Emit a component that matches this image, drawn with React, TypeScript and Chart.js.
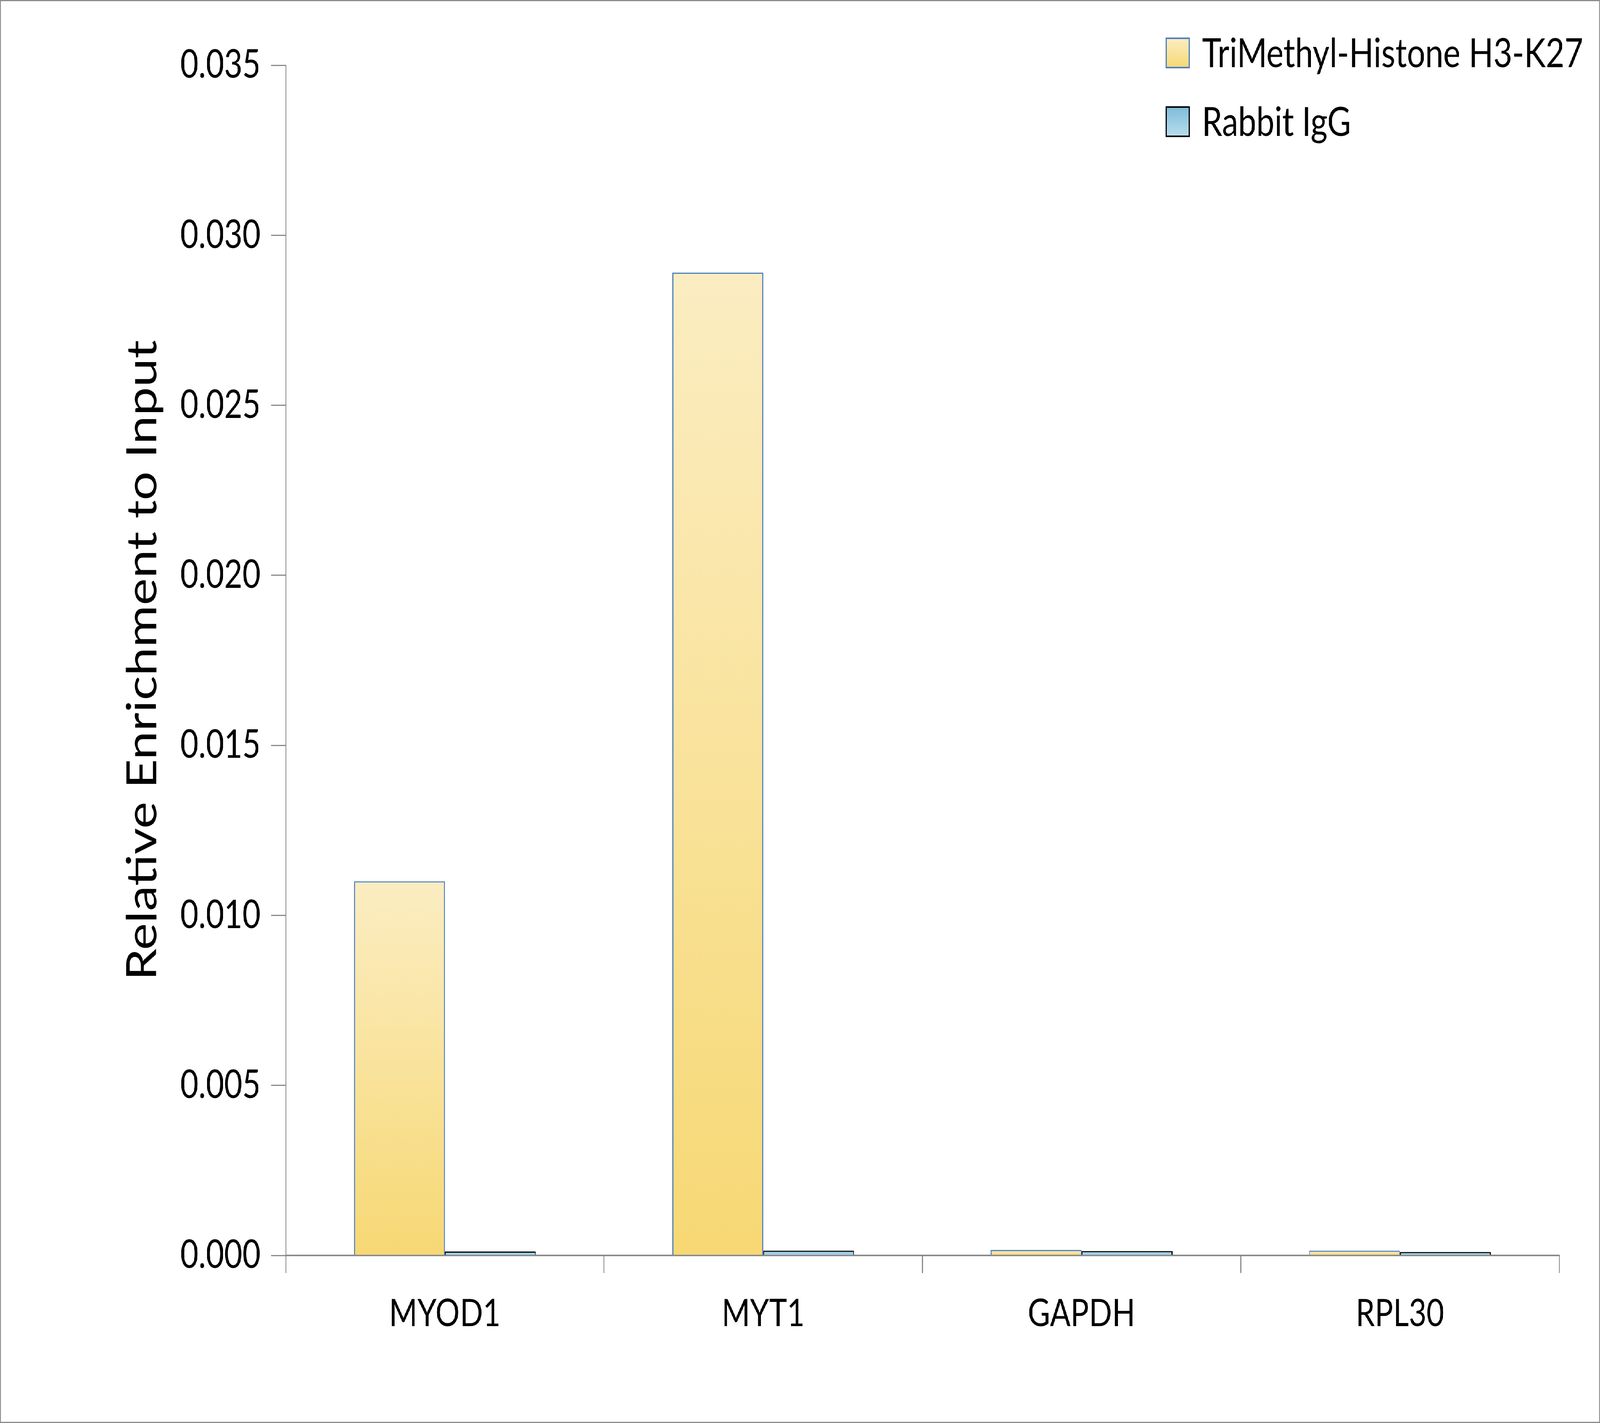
import React, { useEffect, useRef } from "react";
import { Chart, registerables } from "chart.js";

Chart.register(...registerables);

const categories = ["MYOD1", "MYT1", "GAPDH", "RPL30"];
const seriesNames = ["TriMethyl-Histone H3-K27", "Rabbit IgG"];
const h3k27Values = [0.011, 0.0289, 0.00016, 0.00014];
const iggValues = [0.000115, 0.00014, 0.00013, 0.0001];
const yTickMin = 0;
const yTickMax = 0.035;
const yTickStep = 0.005;
const yAxisTitle = "Relative Enrichment to Input";

const FONT = "Lato";
const W = 5090;
const H = 3643;
const B = 3;

const yellowTop = "#FBEDC2";
const yellowBottom = "#F7D874";
const blueTop = "#7FBBDA";
const blueBottom = "#B8DEEC";

function makeGrad(top: string, bottom: string) {
  return (ctx: any) => {
    const chart = ctx.chart;
    const y = chart.scales && chart.scales.y;
    if (!chart.chartArea || !y || ctx.type !== "data") return bottom;
    const yTop = y.getPixelForValue(ctx.raw);
    const yBase = y.getPixelForValue(0);
    if (!isFinite(yTop) || !isFinite(yBase) || Math.abs(yBase - yTop) < 1) return bottom;
    const g = chart.ctx.createLinearGradient(0, yTop, 0, yBase);
    g.addColorStop(0, top);
    g.addColorStop(1, bottom);
    return g;
  };
}

const legendPlugin = {
  id: "customLegend",
  afterDraw(chart: any) {
    const ctx = chart.ctx;
    const items = [
      { label: seriesNames[0], top: yellowTop, bottom: yellowBottom, border: "#4F81BD", y: 95 },
      { label: seriesNames[1], top: blueTop, bottom: blueBottom, border: "#000000", y: 271 },
    ];
    ctx.save();
    for (const it of items) {
      const x = 3707;
      const w = 73;
      const h = 75;
      const g = ctx.createLinearGradient(0, it.y, 0, it.y + h);
      g.addColorStop(0, it.top);
      g.addColorStop(1, it.bottom);
      ctx.fillStyle = g;
      ctx.fillRect(x, it.y, w, h);
      ctx.lineWidth = 4;
      ctx.strokeStyle = it.border;
      ctx.strokeRect(x, it.y, w, h);
      ctx.fillStyle = "#000";
      ctx.font = `103px ${FONT}`;
      ctx.textBaseline = "middle";
      ctx.textAlign = "left";
      ctx.fillText(it.label, 3821, it.y + h / 2 + 3);
    }
    ctx.restore();
  },
};

export default function App() {
  const ref = useRef<HTMLCanvasElement | null>(null);
  const vw = typeof window !== "undefined" ? window.innerWidth : W;
  const vh = typeof window !== "undefined" ? window.innerHeight : H;
  const sx = Math.min(1, vw / W);
  const sy = Math.min(1, vh / H);
  useEffect(() => {
    document.body.style.margin = "0";
    document.body.style.overflow = "hidden";
    if (!ref.current) return;
    const chart = new Chart(ref.current, {
      type: "bar",
      data: {
        labels: categories,
        datasets: [
          {
            label: seriesNames[0],
            data: h3k27Values,
            backgroundColor: makeGrad(yellowTop, yellowBottom),
            borderColor: "#4F81BD",
            borderWidth: 3,
            categoryPercentage: 0.571,
            barPercentage: 1,
          },
          {
            label: seriesNames[1],
            data: iggValues,
            backgroundColor: makeGrad(blueTop, blueBottom),
            borderColor: "#000000",
            borderWidth: 3,
            categoryPercentage: 0.571,
            barPercentage: 1,
          },
        ],
      },
      options: {
        animation: false,
        responsive: false,
        devicePixelRatio: 1,
        layout: { padding: { top: 164, right: 127, left: 0, bottom: 0 } },
        plugins: { legend: { display: false }, tooltip: { enabled: false } },
        scales: {
          x: {
            grid: {
              offset: true,
              drawOnChartArea: false,
              drawTicks: true,
              tickLength: 45,
              color: "#8A8A8A",
              lineWidth: 3,
            },
            border: { color: "#8A8A8A", width: 4 },
            ticks: {
              color: "#000",
              font: { family: FONT, size: 97 },
              padding: 47,
            },
            afterFit(scale: any) {
              scale.height = 426;
            },
          },
          y: {
            min: yTickMin,
            max: yTickMax,
            grid: {
              drawOnChartArea: false,
              drawTicks: true,
              tickLength: 46,
              color: "#8A8A8A",
              lineWidth: 3,
            },
            border: { color: "#8A8A8A", width: 3 },
            ticks: {
              stepSize: yTickStep,
              color: "#000",
              font: { family: FONT, size: 100 },
              padding: 34,
              callback: (v: any) => Number(v).toFixed(3),
            },
            title: {
              display: true,
              text: yAxisTitle,
              color: "#000",
              font: { family: FONT, size: 131 },
              padding: { top: 373, bottom: 0 },
            },
            afterFit(scale: any) {
              scale.width = 906;
            },
          },
        },
      },
      plugins: [legendPlugin],
    });
    return () => chart.destroy();
  }, []);
  return (
    <div style={{ width: Math.round(W * sx), height: Math.round(H * sy), overflow: "hidden", position: "relative" }}>
      <div
        style={{
          width: W,
          height: H,
          border: `${B}px solid #8C8C8C`,
          boxSizing: "border-box",
          background: "#fff",
          transform: `scale(${sx}, ${sy})`,
          transformOrigin: "0 0",
          position: "absolute",
          left: 0,
          top: 0,
        }}
      >
        <canvas ref={ref} width={W - 2 * B} height={H - 2 * B} style={{ display: "block" }} />
      </div>
    </div>
  );
}
